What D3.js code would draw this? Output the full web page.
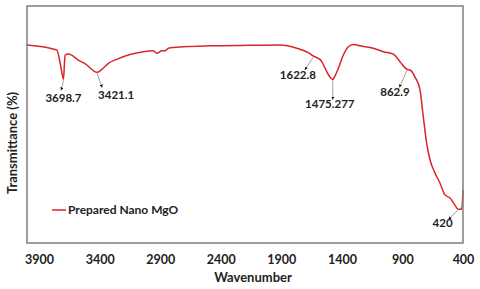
<!DOCTYPE html>
<html><head><meta charset="utf-8">
<script src="https://cdn.jsdelivr.net/npm/d3@7"></script>
<style>html,body{margin:0;padding:0;background:#fff}svg{display:block}</style>
</head><body><div id="chart"></div>
<script>
const wavenumber = [4000,3754,3723,3698.7,3690,3685,3658,3576,3506,3452,3421.1,3382,3328,3259,3149,3039,2957,2928,2887,2860,2833,2709,2488,2158,1911,1773,1677,1636,1622.8,1566,1525,1492,1475.277,1457,1429,1388,1347,1306,1250,1140,1058,975,920,862.9,837,796,755,728,700,672,631,590,549,507,466,440,420,411,400];
const transmittance = [83.5,81.4,75.1,69.1,76.4,79.3,79.7,77.2,75.1,72.7,72.0,73.3,75.8,77.5,79.5,80.7,81.1,80.0,81.1,81.1,82.2,82.8,83.2,83.4,83.5,82.2,80.3,78.9,78.6,76.5,72.3,69.6,69.0,70.5,73.7,79.3,82.8,83.8,83.2,82.2,80.7,79.7,76.5,73.3,73.0,70.0,64.6,53.3,42.1,35.0,29.5,25.3,20.3,19.0,16.0,14.2,14.2,14.2,22.4];
const xTicks = [3900,3400,2900,2400,1900,1400,900,400];
const peakWavenumbers = [3698.7,3421.1,1622.8,1475.277,862.9,420];
const peakLabels = ["3698.7","3421.1","1622.8","1475.277","862.9","420"];
const seriesName = "Prepared Nano MgO";

// layout (pixel offsets for annotation arrows / labels)
const annLayout = [
  {dx0:0,dy0:1,dx1:-2.2,dy1:11,lx:0,ly:23},
  {dx0:0,dy0:1,dx1:5,dy1:15,lx:19,ly:27},
  {dx0:-2,dy0:1,dx1:-10,dy1:13,lx:-17,ly:22},
  {dx0:0,dy0:1,dx1:0,dy1:20,lx:-3,ly:29},
  {dx0:0,dy0:1,dx1:-7.5,dy1:18,lx:-12,ly:27},
  {dx0:-2,dy0:0,dx1:-12,dy1:10,lx:-18,ly:18}
];

const W=480,H=289, m={l:27,r:17,t:6,b:46};
const svg=d3.select("#chart").append("svg").attr("width",W).attr("height",H);
const x=d3.scaleLinear().domain([4000,400]).range([m.l,W-m.r]);
const y=d3.scaleLinear().domain([0,100]).range([H-m.b,m.t]);
const font="Lato, 'Open Sans', sans-serif";

const data=wavenumber.map((w,i)=>({w,t:transmittance[i]}));
svg.append("path").datum(data)
  .attr("fill","none").attr("stroke","#d9262b").attr("stroke-width",1.5)
  .attr("d",d3.line().x(d=>x(d.w)).y(d=>y(d.t)).curve(d3.curveMonotoneX));

// frame
svg.append("rect").attr("x",m.l).attr("y",m.t).attr("width",W-m.l-m.r).attr("height",H-m.t-m.b)
  .attr("fill","none").attr("stroke","#7f7f7f").attr("stroke-width",1.5);

const xAxis=svg.append("g").attr("transform",`translate(0,${H-m.b})`)
  .call(d3.axisBottom(x).tickValues(xTicks).tickSize(0).tickPadding(12).tickFormat(d3.format("d")));
xAxis.select(".domain").remove();
xAxis.selectAll("text").attr("font-family",font).attr("font-weight","bold").attr("font-size",12.5).attr("fill","#222");

svg.append("text").attr("x",253).attr("y",282).attr("text-anchor","middle")
  .attr("font-family",font).attr("font-weight","bold").attr("font-size",13).attr("fill","#222").text("Wavenumber");
svg.append("text").attr("transform","translate(17,143) rotate(-90)").attr("text-anchor","middle")
  .attr("font-family",font).attr("font-weight","bold").attr("font-size",13).attr("fill","#222").text("Transmittance (%)");

// annotations
svg.append("defs").append("marker").attr("id","ah").attr("viewBox","0 0 10 10").attr("refX",9).attr("refY",5)
  .attr("markerWidth",4).attr("markerHeight",4).attr("orient","auto")
  .append("path").attr("d","M0,0L10,5L0,10z").attr("fill","#111");
const tAt=w=>{const i=wavenumber.indexOf(w);return transmittance[i];};
peakWavenumbers.forEach((w,i)=>{
  const L=annLayout[i]; const px=x(w), py=y(tAt(w));
  svg.append("line").attr("x1",px+L.dx0).attr("y1",py+L.dy0).attr("x2",px+L.dx1).attr("y2",py+L.dy1)
    .attr("stroke","#888").attr("stroke-width",0.8).attr("marker-end","url(#ah)");
  svg.append("text").attr("x",px+L.lx).attr("y",py+L.ly).attr("text-anchor","middle")
    .attr("font-family",font).attr("font-weight","bold").attr("font-size",11.5).attr("fill","#222").text(peakLabels[i]);
});

// legend
svg.append("line").attr("x1",52).attr("x2",66).attr("y1",210).attr("y2",210).attr("stroke","#d9262b").attr("stroke-width",1.5);
svg.append("text").attr("x",68).attr("y",214).attr("font-family",font).attr("font-weight","bold").attr("font-size",12)
  .attr("fill","#222").text(seriesName);
</script></body></html>
